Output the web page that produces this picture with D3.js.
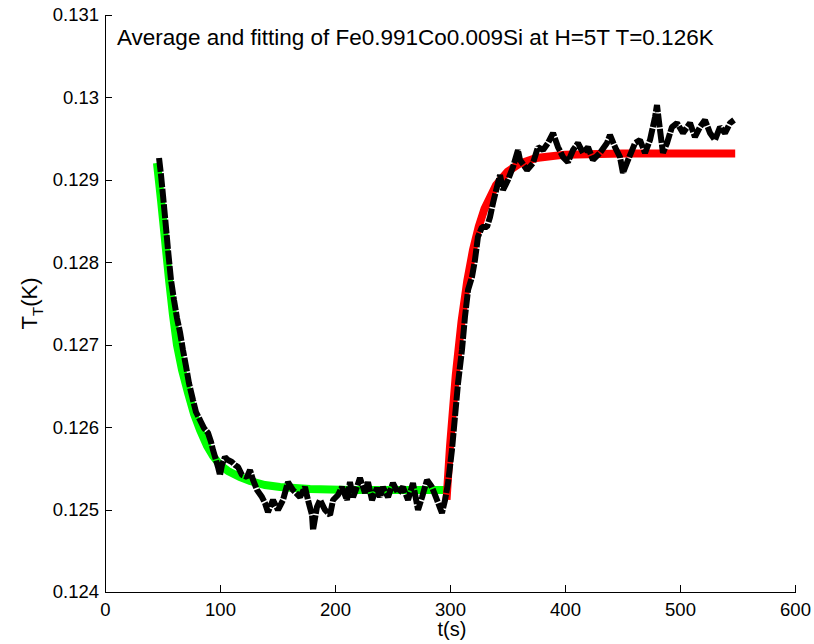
<!DOCTYPE html>
<html>
<head>
<meta charset="utf-8">
<script src="https://cdn.jsdelivr.net/npm/d3@7"></script>
<style>
body { margin: 0; background: #fff; }
text { font-family: "Liberation Sans", Arial, Helvetica, sans-serif; fill: #000; }
.axis path, .axis line { stroke: #000; stroke-width: 1; shape-rendering: crispEdges; }
</style>
</head>
<body>
<script>
var xTicks = [0, 100, 200, 300, 400, 500, 600];
var xTickLabels = ["0", "100", "200", "300", "400", "500", "600"];
var yTicks = [0.124, 0.125, 0.126, 0.127, 0.128, 0.129, 0.130, 0.131];
var yTickLabels = ["0.124", "0.125", "0.126", "0.127", "0.128", "0.129", "0.13", "0.131"];

// averaged temperature trace [t (s), T (K)]
var avgData = [
  [47.0,0.129265],[48.7,0.129059],[50.4,0.128816],[52.2,0.128549],[54.8,0.128149],[57.4,0.127785],
  [60.0,0.127542],[62.6,0.127324],[65.2,0.127154],[67.8,0.126936],[70.4,0.126742],[73.0,0.126535],
  [76.5,0.126329],[79.1,0.126184],[82.6,0.126087],[86.1,0.125989],[89.6,0.125929],[92.2,0.125820],
  [93.9,0.125723],[96.5,0.125601],[98.3,0.125516],[100.0,0.125419],[101.7,0.125541],[104.3,0.125638],
  [106.9,0.125601],[110.4,0.125577],[113.0,0.125541],[115.7,0.125516],[119.1,0.125419],[123.5,0.125395],
  [126.1,0.125480],[128.7,0.125359],[132.2,0.125237],[136.5,0.125152],[139.1,0.125080],[141.7,0.124970],
  [146.1,0.125116],[150.4,0.124995],[154.8,0.125116],[159.1,0.125334],[163.5,0.125237],[169.6,0.125152],
  [173.9,0.125274],[176.5,0.125116],[180.0,0.124934],[180.9,0.124752],[184.3,0.125031],[187.0,0.125116],
  [191.3,0.124995],[195.7,0.124934],[198.3,0.125116],[202.6,0.125177],[206.1,0.125274],[210.4,0.125116],
  [213.0,0.125334],[215.7,0.125152],[219.1,0.125274],[221.7,0.125383],[226.1,0.125201],[228.7,0.125334],
  [232.2,0.125116],[236.5,0.125262],[239.1,0.125152],[241.7,0.125274],[246.1,0.125152],[250.4,0.125322],
  [254.8,0.125201],[259.1,0.125274],[263.5,0.125116],[267.8,0.125322],[272.2,0.124995],[275.7,0.125152],
  [280.0,0.125359],[284.3,0.125274],[288.7,0.125116],[293.0,0.124958],[295.7,0.125116],
  [298.3,0.125322],[301.7,0.125723],[304.3,0.126123],[307.0,0.126535],[310.4,0.126936],[313.0,0.127336],
  [315.7,0.127664],[319.1,0.127821],[321.7,0.128027],[324.3,0.128307],[327.8,0.128428],[332.2,0.128428],
  [334.8,0.128549],[337.4,0.128719],[341.7,0.128962],[343.5,0.129059],[346.1,0.128877],[350.4,0.128998],
  [354.8,0.129156],[359.1,0.129362],[360.9,0.129241],[367.0,0.129119],[372.2,0.129204],[376.5,0.129398],
  [380.9,0.129362],[385.2,0.129447],[389.6,0.129568],[393.9,0.129398],[398.3,0.129277],[402.6,0.129216],
  [407.0,0.129362],[411.3,0.129447],[415.7,0.129326],[420.0,0.129398],[424.3,0.129241],[430.4,0.129326],
  [436.5,0.129447],[439.1,0.129544],[443.5,0.129398],[447.8,0.129277],[450.4,0.129083],[454.8,0.129241],
  [460.9,0.129447],[465.2,0.129483],[469.6,0.129326],[473.9,0.129483],[478.3,0.129762],[480.0,0.129908],
  [482.6,0.129605],[485.2,0.129326],[488.7,0.129447],[493.0,0.129641],[497.4,0.129689],[502.6,0.129568],
  [508.7,0.129689],[513.0,0.129520],[517.4,0.129641],[521.7,0.129726],[526.1,0.129568],[530.4,0.129483],
  [534.8,0.129641],[539.1,0.129568],[543.5,0.129689],[547.0,0.129726]
];

// fitted cooling curve (green)
var decayFit = [
  [45.2,0.129204],[48.7,0.128756],[52.2,0.128270],[55.7,0.127785],[59.1,0.127360],[62.6,0.126996],
  [67.0,0.126693],[72.2,0.126414],[77.4,0.126159],[82.6,0.125965],[88.7,0.125771],[93.9,0.125650],
  [100.0,0.125541],[107.0,0.125468],[117.4,0.125395],[126.1,0.125347],[139.1,0.125298],[152.2,0.125274],
  [178.3,0.125250],[213.0,0.125237],[297.4,0.125237]
];

// fitted heating curve (red)
var riseFit = [
  [297,0.125120],[300,0.125765],[305,0.126627],[310,0.127280],[315,0.127775],[320,0.128150],
  [325,0.128434],[330,0.128648],[340,0.128935],[350,0.129099],[360,0.129193],[375,0.129265],
  [400,0.129306],[450,0.129320],[548,0.129320]
];

var margin = {top: 15, right: 19, bottom: 52, left: 105},
    width = 814 - margin.left - margin.right,
    height = 644 - margin.top - margin.bottom;

var x = d3.scaleLinear()
    .domain([0, 600])
    .range([0, width]);

var y = d3.scaleLinear()
    .domain([0.124, 0.131])
    .range([height, 0]);

var xAxis = d3.axisBottom(x)
    .tickValues(xTicks)
    .tickFormat(function(d, i) { return xTickLabels[i]; })
    .tickSizeInner(-7)
    .tickSizeOuter(0)
    .tickPadding(11);

var yAxis = d3.axisLeft(y)
    .tickValues(yTicks)
    .tickFormat(function(d, i) { return yTickLabels[i]; })
    .tickSizeInner(-7)
    .tickSizeOuter(0)
    .tickPadding(6);

var svg = d3.select("body").append("svg")
    .attr("width", width + margin.left + margin.right)
    .attr("height", height + margin.top + margin.bottom)
  .append("g")
    .attr("transform", "translate(" + margin.left + "," + margin.top + ")");

svg.append("g")
    .attr("class", "x axis")
    .attr("transform", "translate(0," + height + ")")
    .call(xAxis)
    .selectAll("text")
    .style("font-size", "18.5px");

svg.append("g")
    .attr("class", "y axis")
    .call(yAxis)
    .selectAll("text")
    .style("font-size", "18.5px");

var line = d3.line()
    .x(function(d) { return x(d[0]); })
    .y(function(d) { return y(d[1]); });

svg.append("path")
    .datum(decayFit)
    .attr("fill", "none")
    .attr("stroke", "#00ff00")
    .attr("stroke-width", 8)
    .attr("d", line);

svg.append("path")
    .datum(riseFit)
    .attr("fill", "none")
    .attr("stroke", "#ff0000")
    .attr("stroke-width", 8)
    .attr("d", line);

svg.append("path")
    .datum(avgData)
    .attr("fill", "none")
    .attr("stroke", "#000")
    .attr("stroke-width", 6)
    .attr("stroke-dasharray", "14,1.5")
    .attr("stroke-linejoin", "bevel")
    .attr("d", line);

// title inside the axes
svg.append("text")
    .attr("x", 12)
    .attr("y", 30)
    .style("font-size", "22.5px")
    .text("Average and fitting of Fe0.991Co0.009Si at H=5T T=0.126K");

svg.append("text")
    .attr("x", width / 2 + 2)
    .attr("y", height + 44)
    .attr("text-anchor", "middle")
    .style("font-size", "20px")
    .text("t(s)");

var ylab = svg.append("text")
    .attr("transform", "translate(" + (-68) + "," + (height / 2) + ") rotate(-90)")
    .attr("text-anchor", "middle")
    .style("font-size", "22px");
ylab.append("tspan").text("T");
ylab.append("tspan").attr("dy", 6).style("font-size", "15px").text("T");
ylab.append("tspan").attr("dy", -6).text("(K)");
</script>
</body>
</html>
